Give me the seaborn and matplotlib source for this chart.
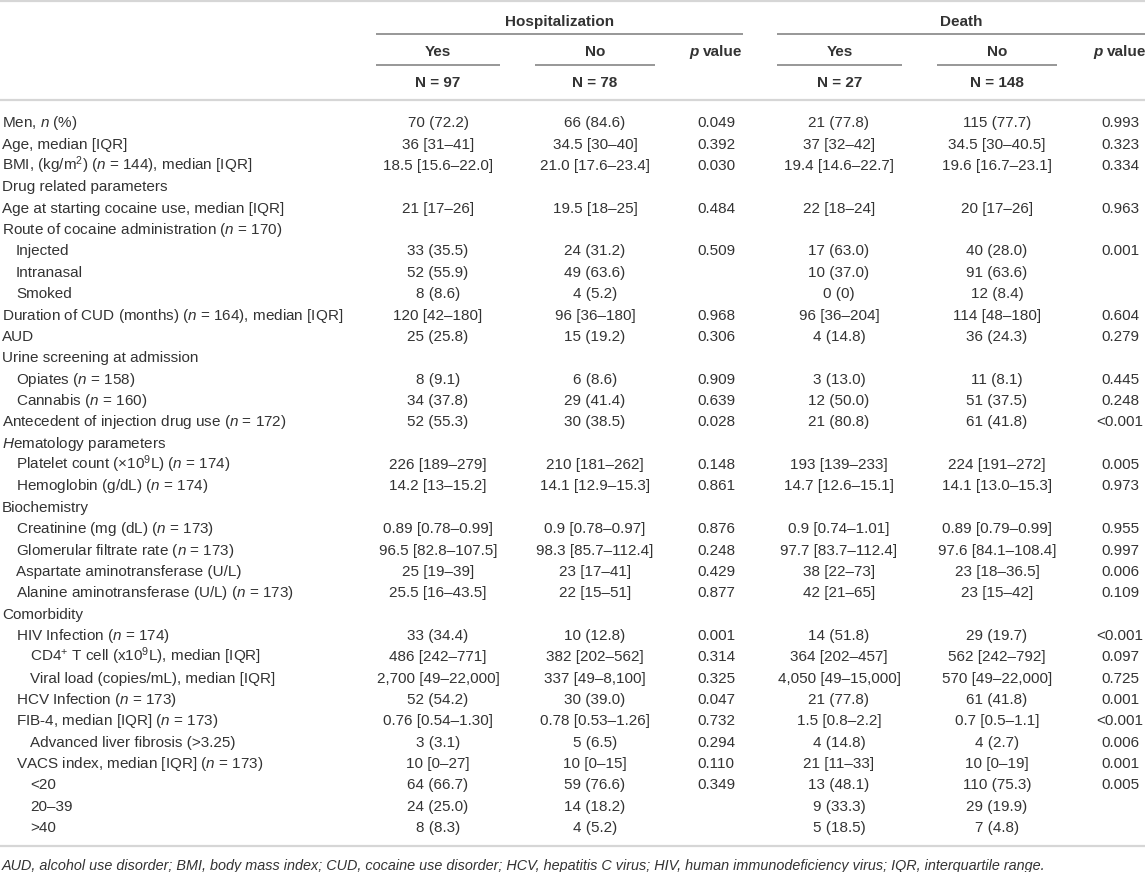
import matplotlib
matplotlib.use("Agg")
import matplotlib.pyplot as plt
import pandas as pd
import seaborn as sns

# Table content (Hospitalization / Death, Yes vs No)
row_labels = [
    "Men, $n$ (%)",
    "Age, median [IQR]",
    "BMI, (kg/m$^{2}$) ($n$ = 144), median [IQR]",
    "Drug related parameters",
    "Age at starting cocaine use, median [IQR]",
    "Route of cocaine administration ($n$ = 170)",
    "Injected",
    "Intranasal",
    "Smoked",
    "Duration of CUD (months) ($n$ = 164), median [IQR]",
    "AUD",
    "Urine screening at admission",
    "Opiates ($n$ = 158)",
    "Cannabis ($n$ = 160)",
    "Antecedent of injection drug use ($n$ = 172)",
    "$H$ematology parameters",
    "Platelet count (×10$^{9}$L) ($n$ = 174)",
    "Hemoglobin (g/dL) ($n$ = 174)",
    "Biochemistry",
    "Creatinine (mg (dL) ($n$ = 173)",
    "Glomerular filtrate rate ($n$ = 173)",
    "Aspartate aminotransferase (U/L)",
    "Alanine aminotransferase (U/L) ($n$ = 173)",
    "Comorbidity",
    "HIV Infection ($n$ = 174)",
    "CD4$^{+}$ T cell (x10$^{9}$L), median [IQR]",
    "Viral load (copies/mL), median [IQR]",
    "HCV Infection ($n$ = 173)",
    "FIB-4, median [IQR] ($n$ = 173)",
    "Advanced liver fibrosis (>3.25)",
    "VACS index, median [IQR] ($n$ = 173)",
    "<20",
    "20–39",
    ">40",
]
row_levels = [0, 0, 0, 0, 0, 0, 1, 1, 1, 0, 0, 0, 1, 1, 0, 0, 1, 1, 0, 1, 1, 1, 1,
              0, 1, 2, 2, 1, 1, 2, 1, 2, 2, 2]

hosp_yes = ["70 (72.2)", "36 [31–41]", "18.5 [15.6–22.0]", "", "21 [17–26]", "",
            "33 (35.5)", "52 (55.9)", "8 (8.6)", "120 [42–180]", "25 (25.8)", "",
            "8 (9.1)", "34 (37.8)", "52 (55.3)", "", "226 [189–279]", "14.2 [13–15.2]",
            "", "0.89 [0.78–0.99]", "96.5 [82.8–107.5]", "25 [19–39]", "25.5 [16–43.5]",
            "", "33 (34.4)", "486 [242–771]", "2,700 [49–22,000]", "52 (54.2)",
            "0.76 [0.54–1.30]", "3 (3.1)", "10 [0–27]", "64 (66.7)", "24 (25.0)", "8 (8.3)"]
hosp_no = ["66 (84.6)", "34.5 [30–40]", "21.0 [17.6–23.4]", "", "19.5 [18–25]", "",
           "24 (31.2)", "49 (63.6)", "4 (5.2)", "96 [36–180]", "15 (19.2)", "",
           "6 (8.6)", "29 (41.4)", "30 (38.5)", "", "210 [181–262]", "14.1 [12.9–15.3]",
           "", "0.9 [0.78–0.97]", "98.3 [85.7–112.4]", "23 [17–41]", "22 [15–51]",
           "", "10 (12.8)", "382 [202–562]", "337 [49–8,100]", "30 (39.0)",
           "0.78 [0.53–1.26]", "5 (6.5)", "10 [0–15]", "59 (76.6)", "14 (18.2)", "4 (5.2)"]
hosp_p = ["0.049", "0.392", "0.030", "", "0.484", "", "0.509", "", "", "0.968", "0.306", "",
          "0.909", "0.639", "0.028", "", "0.148", "0.861", "", "0.876", "0.248", "0.429",
          "0.877", "", "0.001", "0.314", "0.325", "0.047", "0.732", "0.294", "0.110",
          "0.349", "", ""]
death_yes = ["21 (77.8)", "37 [32–42]", "19.4 [14.6–22.7]", "", "22 [18–24]", "",
             "17 (63.0)", "10 (37.0)", "0 (0)", "96 [36–204]", "4 (14.8)", "",
             "3 (13.0)", "12 (50.0)", "21 (80.8)", "", "193 [139–233]", "14.7 [12.6–15.1]",
             "", "0.9 [0.74–1.01]", "97.7 [83.7–112.4]", "38 [22–73]", "42 [21–65]",
             "", "14 (51.8)", "364 [202–457]", "4,050 [49–15,000]", "21 (77.8)",
             "1.5 [0.8–2.2]", "4 (14.8)", "21 [11–33]", "13 (48.1)", "9 (33.3)", "5 (18.5)"]
death_no = ["115 (77.7)", "34.5 [30–40.5]", "19.6 [16.7–23.1]", "", "20 [17–26]", "",
            "40 (28.0)", "91 (63.6)", "12 (8.4)", "114 [48–180]", "36 (24.3)", "",
            "11 (8.1)", "51 (37.5)", "61 (41.8)", "", "224 [191–272]", "14.1 [13.0–15.3]",
            "", "0.89 [0.79–0.99]", "97.6 [84.1–108.4]", "23 [18–36.5]", "23 [15–42]",
            "", "29 (19.7)", "562 [242–792]", "570 [49–22,000]", "61 (41.8)",
            "0.7 [0.5–1.1]", "4 (2.7)", "10 [0–19]", "110 (75.3)", "29 (19.9)", "7 (4.8)"]
death_p = ["0.993", "0.323", "0.334", "", "0.963", "", "0.001", "", "", "0.604", "0.279", "",
           "0.445", "0.248", "<0.001", "", "0.005", "0.973", "", "0.955", "0.997", "0.006",
           "0.109", "", "<0.001", "0.097", "0.725", "0.001", "<0.001", "0.006", "0.001",
           "0.005", "", ""]

group_names = ["Hospitalization", "Death"]
sub_names = ["Yes", "No"]
n_labels = ["N = 97", "N = 78", "N = 27", "N = 148"]
footnote = ("AUD, alcohol use disorder; BMI, body mass index; CUD, cocaine use disorder; "
            "HCV, hepatitis C virus; HIV, human immunodeficiency virus; IQR, interquartile range.")

table = pd.DataFrame({
    "label": row_labels, "level": row_levels,
    "hosp_yes": hosp_yes, "hosp_no": hosp_no, "hosp_p": hosp_p,
    "death_yes": death_yes, "death_no": death_no, "death_p": death_p,
})

sns.set_theme(style="white")
plt.rcParams["font.family"] = ["Liberation Sans", "DejaVu Sans"]
plt.rcParams["mathtext.fontset"] = "custom"
plt.rcParams["mathtext.rm"] = "Liberation Sans"
plt.rcParams["mathtext.it"] = "Liberation Sans:italic"
plt.rcParams["mathtext.bf"] = "Liberation Sans:bold"

W, H = 1145, 872
fig = plt.figure(figsize=(W / 100, H / 100), dpi=100)
ax = fig.add_axes([0, 0, 1, 1])
ax.set_xlim(0, W)
ax.set_ylim(H, 0)
ax.axis("off")

FS = 11
TXT = "#333333"
LIGHT = "#d6d6d6"
DARK = "#7a7a7a"

# layout (pixels)
row_y0, row_dy = 122, 21.36
base_off = 5.3
indent_x0, indent_dx = 2, 14
col_x = {"hosp_yes": 438, "hosp_no": 595, "hosp_p": 716,
         "death_yes": 839, "death_no": 997, "death_p": 1120}

# header
ax.axhline(1, color=LIGHT, lw=1.6)
group_spans = [(376, 743), (777, 1145)]
for name, (x0, x1) in zip(group_names, group_spans):
    ax.text((x0 + x1) / 2, 21 + base_off, name, ha="center", va="baseline",
            fontsize=FS, fontweight="bold", color=TXT)
    ax.plot([x0, x1], [34, 34], color=DARK, lw=1.1, solid_capstyle="butt")

sub_spans = [(376, 500), (535, 655), (777, 902), (937, 1057)]
for i, (x0, x1) in enumerate(sub_spans):
    ax.text((x0 + x1) / 2, 51 + base_off, sub_names[i % 2], ha="center", va="baseline",
            fontsize=FS, fontweight="bold", color=TXT)
    ax.plot([x0, x1], [65, 65], color=DARK, lw=1.1, solid_capstyle="butt")
    ax.text((x0 + x1) / 2, 82 + base_off, n_labels[i], ha="center", va="baseline",
            fontsize=FS, fontweight="bold", color=TXT)

for pc in (col_x["hosp_p"], col_x["death_p"]):
    ax.text(pc - 17, 51 + base_off, "p", ha="right", va="baseline", fontsize=FS,
            fontweight="bold", fontstyle="italic", color=TXT)
    ax.text(pc - 13, 51 + base_off, "value", ha="left", va="baseline", fontsize=FS,
            fontweight="bold", color=TXT)

ax.axhline(100, color=LIGHT, lw=1.6)

# body
for i, row in table.iterrows():
    y = row_y0 + i * row_dy + base_off
    ax.text(indent_x0 + row["level"] * indent_dx, y, row["label"], ha="left",
            va="baseline", fontsize=FS, color=TXT)
    for col, xc in col_x.items():
        if row[col]:
            ax.text(xc, y, row[col], ha="center", va="baseline", fontsize=FS, color=TXT)

last_y = row_y0 + (len(table) - 1) * row_dy
ax.axhline(last_y + 19, color=LIGHT, lw=1.6)
ax.text(2, last_y + 38 + base_off, footnote, ha="left", va="baseline",
        fontsize=10.35, fontstyle="italic", color=TXT)

fig.savefig("out.png", dpi=100)
